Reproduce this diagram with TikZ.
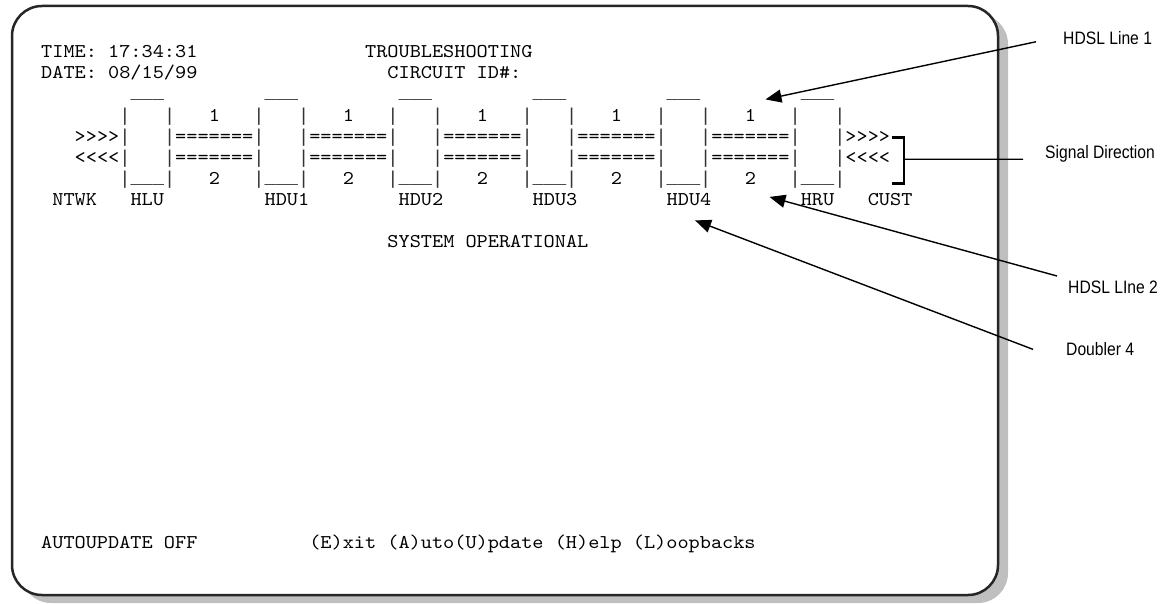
\documentclass[tikz,border=0pt]{standalone}
\usepackage{fontspec}
\usetikzlibrary{arrows.meta}

\newfontfamily\crtfont[FakeStretch=1.09]{lmmono10-regular.otf}
\newfontfamily\boxfont{Liberation Mono}
\newfontfamily\calloutfont[FakeStretch=0.87]{Liberation Sans}

\begin{document}
\begin{tikzpicture}[
		x=1pt, y=-1pt,
		crt/.style={font=\crtfont\fontsize{19.5}{21}\selectfont, inner sep=0pt, anchor=base west},
		edge/.style={font=\boxfont\fontsize{18.6}{21}\selectfont, inner sep=0pt, anchor=base west, text=black!80},
		callout/.style={font=\calloutfont\fontsize{18}{20}\selectfont, inner sep=0pt, anchor=base west},
		pointer/.style={-{Triangle[length=16pt, width=13pt]}, line width=1.4pt},
		leader/.style={line width=1.3pt},
		bracket/.style={line width=2.8pt},
		]
		
		\useasboundingbox (0,0) rectangle (1166,604);
		\def\cw{11.17}
		\def\xo{41}
		
		% ==========================================
		% SCREEN FRAME
		% ==========================================
		\fill[gray!50, rounded corners=30pt] (21,14) rectangle (1008,603);
		\draw[line width=2.5pt, draw=black!85, fill=white, rounded corners=30pt] (12,6) rectangle (998,595);
		
		% ==========================================
		% HEADER
		% ==========================================
		\node[crt] (TimeLine) at (\xo,58) {TIME: 17:34:31};
		\node[crt] (Title) at ({\xo+29*\cw},58) {TROUBLESHOOTING};
		\node[crt] (DateLine) at (\xo,79) {DATE: 08/15/99};
		\node[crt] (CircuitId) at ({\xo+31*\cw},79) {CIRCUIT ID\#:};
		
		% ==========================================
		% UNITS AND HDSL PAIRS
		% ==========================================
		\foreach \i in {0,...,5} {
			\pgfmathsetmacro{\bx}{\xo+(7+12*\i)*\cw}
			\node[edge] (Lid\i) at ({\bx+\cw},99) {\_\_\_};
			\foreach \row/\y in {1/121.5, 2/142.5, 3/163.5, 4/184.5} {
				\node[edge] (LeftBar\i\row) at (\bx,\y) {|};
				\node[edge] (RightBar\i\row) at ({\bx+4*\cw},\y) {|};
			}
			\node[edge] (Floor\i) at ({\bx+\cw},183) {\_\_\_};
		}
		
		\foreach \i in {0,...,4} {
			\pgfmathsetmacro{\lx}{\xo+(12+12*\i)*\cw}
			\node[crt] (PairOne\i) at ({\lx+3*\cw},121.5) {1};
			\node[crt] (WireOne\i) at (\lx,142.5) {=======};
			\node[crt] (WireTwo\i) at (\lx,163.5) {=======};
			\node[crt] (PairTwo\i) at ({\lx+3*\cw},184.5) {2};
		}
		
		\node[crt] (NetFwd) at ({\xo+3*\cw},142.5) {>>>>};
		\node[crt] (NetRev) at ({\xo+3*\cw},163.5) {<<<<};
		\node[crt] (CustFwd) at ({\xo+72*\cw},142.5) {>>>>};
		\node[crt] (CustRev) at ({\xo+72*\cw},163.5) {<<<<};
		
		% Unit names
		\node[crt] (NTWK) at ({\xo+\cw},205.5) {NTWK};
		\foreach \u [count=\i from 0] in {HLU,HDU1,HDU2,HDU3,HDU4,HRU}
			\node[crt] (\u) at ({\xo+(8+12*\i)*\cw},205.5) {\u};
		\node[crt] (CUST) at ({\xo+74*\cw},205.5) {CUST};
		
		\node[crt] (Status) at ({\xo+31*\cw},247) {SYSTEM OPERATIONAL};
		
		% ==========================================
		% FOOTER
		% ==========================================
		\node[crt] (AutoUpdate) at (\xo,548) {AUTOUPDATE OFF};
		\node[crt] (Menu) at ({\xo+24*\cw},548) {(E)xit (A)uto(U)pdate (H)elp (L)oopbacks};
		
		% ==========================================
		% CALLOUTS
		% ==========================================
		\node[callout] (LineOne) at (1063,44.2) {HDSL Line 1};
		\node[callout] (SigDir) at (1045,158.2) {Signal Direction};
		\node[callout] (LineTwo) at (1068,293.2) {HDSL LIne 2};
		\node[callout] (DoublerFour) at (1066,355.8) {Doubler 4};
		
		\draw[pointer] ([xshift=-27pt,yshift=-4pt]LineOne.west) -- ([xshift=15pt,yshift=16pt]PairOne4.center);
		\draw[pointer] ([xshift=-11pt,yshift=11pt]LineTwo.west) -- ([xshift=19pt,yshift=-18.5pt]PairTwo4.center);
		\draw[pointer] ([xshift=-33pt]DoublerFour.west) -- ([xshift=6pt,yshift=-14.5pt]HDU4.south);
		
		\coordinate (BracketTop) at (904,137.5);
		\coordinate (BracketMid) at (904,159.3);
		\coordinate (BracketBot) at (904,183.5);
		\draw[bracket] ([xshift=-12pt]BracketTop) -- (BracketTop) -- (BracketBot) -- ([xshift=-12pt]BracketBot);
		\draw[leader] ([xshift=-22pt,yshift=-1pt]SigDir.base west) -- (BracketMid);
		
	\end{tikzpicture}
\end{document}
